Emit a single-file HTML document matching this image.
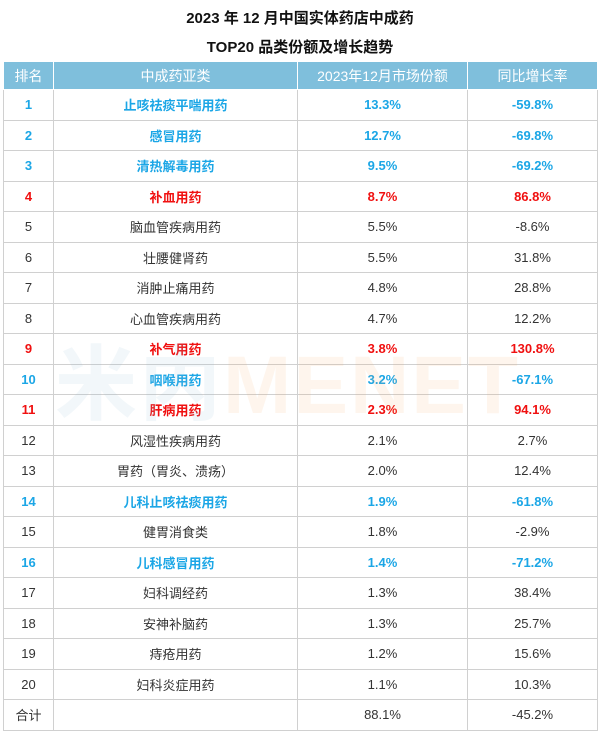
<!DOCTYPE html>
<html><head><meta charset="utf-8"><style>
body{margin:0;background:#fff;width:600px;height:736px;overflow:hidden;font-family:"Liberation Sans","Noto Sans CJK SC",sans-serif;position:relative}
.t{position:absolute;left:0;width:600px;text-align:center;font-weight:bold;font-size:15px;color:#111}
table{position:absolute;left:3px;top:61px;width:594px;border-collapse:collapse;table-layout:fixed}
td,th{border:1px solid #d0d0d0;height:29.5px;padding:0;text-align:center;font-size:13px;color:#333}
th{background:#7fbfdc;color:#fff;font-weight:normal;font-size:14px;height:27px;border-color:#fff}
tr.b td{color:#1ba6e6;font-weight:bold}
tr.r td{color:#f01010;font-weight:bold}
.wm{position:absolute;left:55px;top:318px;font-size:82px;font-weight:bold;white-space:nowrap;letter-spacing:2px;font-family:"Liberation Sans","Noto Sans CJK SC",sans-serif;z-index:2;pointer-events:none}
.wm .a{color:rgba(150,190,215,0.12)}
.wm .c{color:rgba(245,170,110,0.12)}
</style></head><body>
<div class="t" style="top:7px">2023 年 12 月中国实体药店中成药</div>
<div class="t" style="top:36px">TOP20 品类份额及增长趋势</div>
<div class="wm"><span class="a">米内</span><span class="c">MENET</span></div>
<table>
<colgroup><col style="width:50px"><col style="width:244px"><col style="width:170px"><col style="width:130px"></colgroup>
<tr><th>排名</th><th>中成药亚类</th><th>2023年12月市场份额</th><th>同比增长率</th></tr>
<tr class="b"><td>1</td><td>止咳祛痰平喘用药</td><td>13.3%</td><td>-59.8%</td></tr>
<tr class="b"><td>2</td><td>感冒用药</td><td>12.7%</td><td>-69.8%</td></tr>
<tr class="b"><td>3</td><td>清热解毒用药</td><td>9.5%</td><td>-69.2%</td></tr>
<tr class="r"><td>4</td><td>补血用药</td><td>8.7%</td><td>86.8%</td></tr>
<tr><td>5</td><td>脑血管疾病用药</td><td>5.5%</td><td>-8.6%</td></tr>
<tr><td>6</td><td>壮腰健肾药</td><td>5.5%</td><td>31.8%</td></tr>
<tr><td>7</td><td>消肿止痛用药</td><td>4.8%</td><td>28.8%</td></tr>
<tr><td>8</td><td>心血管疾病用药</td><td>4.7%</td><td>12.2%</td></tr>
<tr class="r"><td>9</td><td>补气用药</td><td>3.8%</td><td>130.8%</td></tr>
<tr class="b"><td>10</td><td>咽喉用药</td><td>3.2%</td><td>-67.1%</td></tr>
<tr class="r"><td>11</td><td>肝病用药</td><td>2.3%</td><td>94.1%</td></tr>
<tr><td>12</td><td>风湿性疾病用药</td><td>2.1%</td><td>2.7%</td></tr>
<tr><td>13</td><td>胃药（胃炎、溃疡）</td><td>2.0%</td><td>12.4%</td></tr>
<tr class="b"><td>14</td><td>儿科止咳祛痰用药</td><td>1.9%</td><td>-61.8%</td></tr>
<tr><td>15</td><td>健胃消食类</td><td>1.8%</td><td>-2.9%</td></tr>
<tr class="b"><td>16</td><td>儿科感冒用药</td><td>1.4%</td><td>-71.2%</td></tr>
<tr><td>17</td><td>妇科调经药</td><td>1.3%</td><td>38.4%</td></tr>
<tr><td>18</td><td>安神补脑药</td><td>1.3%</td><td>25.7%</td></tr>
<tr><td>19</td><td>痔疮用药</td><td>1.2%</td><td>15.6%</td></tr>
<tr><td>20</td><td>妇科炎症用药</td><td>1.1%</td><td>10.3%</td></tr>
<tr><td>合计</td><td></td><td>88.1%</td><td>-45.2%</td></tr>
</table>
</body></html>
